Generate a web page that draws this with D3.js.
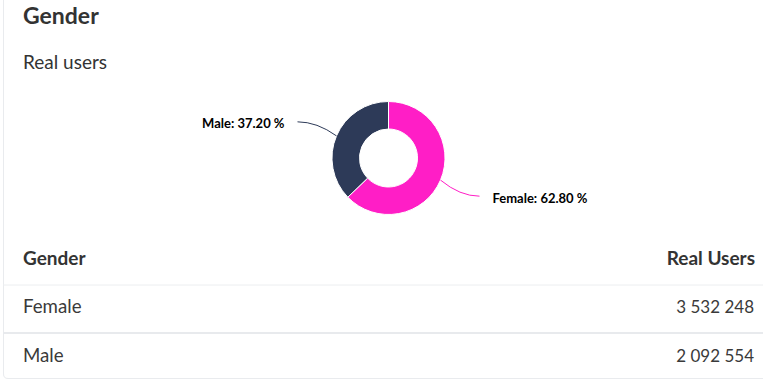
<!DOCTYPE html>
<html>
<head>
<meta charset="utf-8">
<script src="https://cdn.jsdelivr.net/npm/d3@7"></script>
<style>
  body { margin: 0; background: #fff; }
  svg { display: block; font-family: Lato, "Open Sans", sans-serif; }
</style>
</head>
<body>
<div id="vis"></div>
<script>
// data
var genders = ["Female", "Male"]
var realUsers = [3532248, 2092554]
var colors = ["#ff1ec6", "#2d3a58"]

var width = 763, height = 381
var cx = 388.5, cy = 158, R = 56.5, r = 29

var total = d3.sum(realUsers)
var fmtPct = d3.format(".2f")
var fmtNum = d3.formatLocale({decimal: ".", thousands: " ", grouping: [3], currency: ["", ""]}).format(",")

var svg = d3.select("#vis").append("svg")
  .attr("width", width)
  .attr("height", height)

// card border (left + bottom)
svg.append("path")
  .attr("d", "M3.5,0 V374 Q3.5,378.5 8,378.5 H763")
  .attr("fill", "none")
  .attr("stroke", "#e9ebee")
  .attr("stroke-width", 1)

// titles
svg.append("text")
  .attr("x", 23).attr("y", 24)
  .attr("font-size", 23).attr("font-weight", 700)
  .attr("fill", "#333")
  .text("Gender")

svg.append("text")
  .attr("x", 23).attr("y", 69)
  .attr("font-size", 19)
  .attr("fill", "#333")
  .text("Real users")

// donut
var pie = d3.pie().sort(null).value(d => d)
var arcs = pie(realUsers)
var arc = d3.arc().innerRadius(r).outerRadius(R)

var g = svg.append("g").attr("transform", `translate(${cx},${cy})`)

g.selectAll("path.slice")
  .data(arcs)
  .enter()
  .append("path")
  .attr("class", "slice")
  .attr("d", arc)
  .attr("fill", (d, i) => colors[i])
  .attr("stroke", "#fff")
  .attr("stroke-width", 1)

// labels + connectors
arcs.forEach(function(d, i) {
  var a = (d.startAngle + d.endAngle) / 2
  var side = Math.sin(a) >= 0 ? 1 : -1
  var sx = Math.sin(a) * R, sy = -Math.cos(a) * R
  var ly = -Math.cos(a) * 95 + 3
  var ex = side * 91, ey = ly - 2
  var p = d3.path()
  p.moveTo(sx, sy)
  p.quadraticCurveTo((sx + ex) / 2, ey, ex, ey)
  g.append("path")
    .attr("d", p.toString())
    .attr("fill", "none")
    .attr("stroke", colors[i])
    .attr("stroke-width", 1)

  g.append("text")
    .attr("x", side * 104)
    .attr("y", ly)
    .attr("dy", "0.35em")
    .attr("text-anchor", side > 0 ? "start" : "end")
    .attr("font-size", 13).attr("font-weight", 700)
    .attr("fill", "#000")
    .text(genders[i] + ": " + fmtPct(d.value / total * 100) + " %")
})

// table
var rowY = [313, 362]
var sepY = [285, 333]

svg.append("text")
  .attr("x", 23).attr("y", 265)
  .attr("font-size", 19).attr("font-weight", 700)
  .attr("fill", "#333")
  .text("Gender")

svg.append("text")
  .attr("x", 755).attr("y", 265)
  .attr("text-anchor", "end")
  .attr("font-size", 19).attr("font-weight", 700)
  .attr("fill", "#333")
  .text("Real Users")

svg.selectAll("line.sep")
  .data(sepY)
  .enter()
  .append("line")
  .attr("class", "sep")
  .attr("x1", 3).attr("x2", width)
  .attr("y1", d => d).attr("y2", d => d)
  .attr("stroke", (d, i) => i == 0 ? "#eceef0" : "#e8eaed")
  .attr("stroke-width", (d, i) => i == 0 ? 1 : 2)

genders.forEach(function(name, i) {
  svg.append("text")
    .attr("x", 23).attr("y", rowY[i])
    .attr("font-size", 18.7)
    .attr("fill", "#3a3a3a")
    .text(name)
  svg.append("text")
    .attr("x", 754).attr("y", rowY[i])
    .attr("text-anchor", "end")
    .attr("font-size", 17)
    .attr("fill", "#3a3a3a")
    .text(fmtNum(realUsers[i]))
})
</script>
</body>
</html>
